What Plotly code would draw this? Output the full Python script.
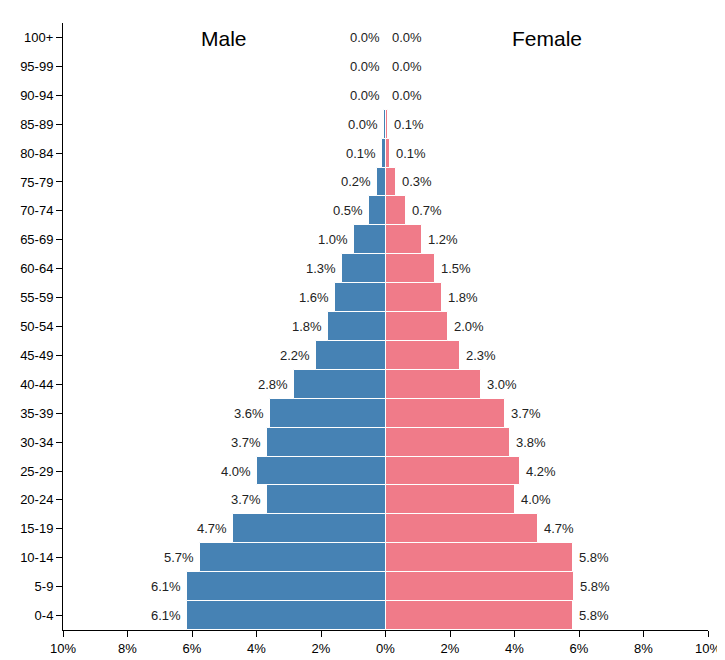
import plotly.graph_objects as go

ages = ["0-4", "5-9", "10-14", "15-19", "20-24", "25-29", "30-34", "35-39", "40-44",
        "45-49", "50-54", "55-59", "60-64", "65-69", "70-74", "75-79", "80-84",
        "85-89", "90-94", "95-99", "100+"]
male = [6.15, 6.15, 5.75, 4.74, 3.69, 4.0, 3.69, 3.57, 2.83, 2.15, 1.78, 1.57, 1.35,
        0.98, 0.52, 0.25, 0.12, 0.05, 0.0, 0.0, 0.0]
female = [5.82, 5.85, 5.82, 4.74, 4.0, 4.18, 3.85, 3.69, 2.95, 2.31, 1.94, 1.75, 1.54,
          1.14, 0.65, 0.34, 0.15, 0.09, 0.03, 0.0, 0.0]
male_lbl = ["6.1%", "6.1%", "5.7%", "4.7%", "3.7%", "4.0%", "3.7%", "3.6%", "2.8%", "2.2%",
            "1.8%", "1.6%", "1.3%", "1.0%", "0.5%", "0.2%", "0.1%", "0.0%", "0.0%", "0.0%", "0.0%"]
female_lbl = ["5.8%", "5.8%", "5.8%", "4.7%", "4.0%", "4.2%", "3.8%", "3.7%", "3.0%", "2.3%",
              "2.0%", "1.8%", "1.5%", "1.2%", "0.7%", "0.3%", "0.1%", "0.1%", "0.0%", "0.0%", "0.0%"]
ticks = [-10, -8, -6, -4, -2, 0, 2, 4, 6, 8, 10]

FONT = "Liberation Sans, Arial, sans-serif"

fig = go.Figure()
fig.add_bar(y=ages, x=[-v for v in male], orientation="h", base=0,
            marker=dict(color="#4682b4", line=dict(color="white", width=1)),
            hoverinfo="skip")
fig.add_bar(y=ages, x=female, orientation="h",
            marker=dict(color="#f07b89", line=dict(color="white", width=1)),
            hoverinfo="skip")

for a, m, ml, f, fl in zip(ages, male, male_lbl, female, female_lbl):
    fig.add_annotation(x=-m, y=a, text=ml, showarrow=False, xanchor="right",
                       xshift=-4, font=dict(size=13, color="#222", family=FONT))
    fig.add_annotation(x=f, y=a, text=fl, showarrow=False, xanchor="left",
                       xshift=4, font=dict(size=13, color="#222", family=FONT))

fig.add_annotation(x=-5, y=1, yref="paper", text="Male", showarrow=False,
                   yanchor="top", yshift=-2, font=dict(size=21, color="black", family=FONT))
fig.add_annotation(x=5, y=1, yref="paper", text="Female", showarrow=False,
                   yanchor="top", yshift=-2, font=dict(size=21, color="black", family=FONT))

fig.update_layout(
    width=725, height=660, barmode="overlay", bargap=0, showlegend=False,
    margin=dict(l=55, r=20, t=15, b=30),
    plot_bgcolor="white", paper_bgcolor="white",
    font=dict(family=FONT, size=13, color="black"),
)
fig.update_xaxes(range=[-10, 10], tickvals=ticks, ticktext=[f"{abs(t)}%" for t in ticks],
                 showgrid=False, zeroline=False, showline=True, linecolor="black",
                 ticks="outside", ticklen=6, tickcolor="black")
fig.update_yaxes(categoryorder="array", categoryarray=ages, range=[-0.5, 20.5],
                 showgrid=False, zeroline=False, showline=True, linecolor="black",
                 ticks="outside", ticklen=6, tickcolor="black")

fig.write_html("out.html")
